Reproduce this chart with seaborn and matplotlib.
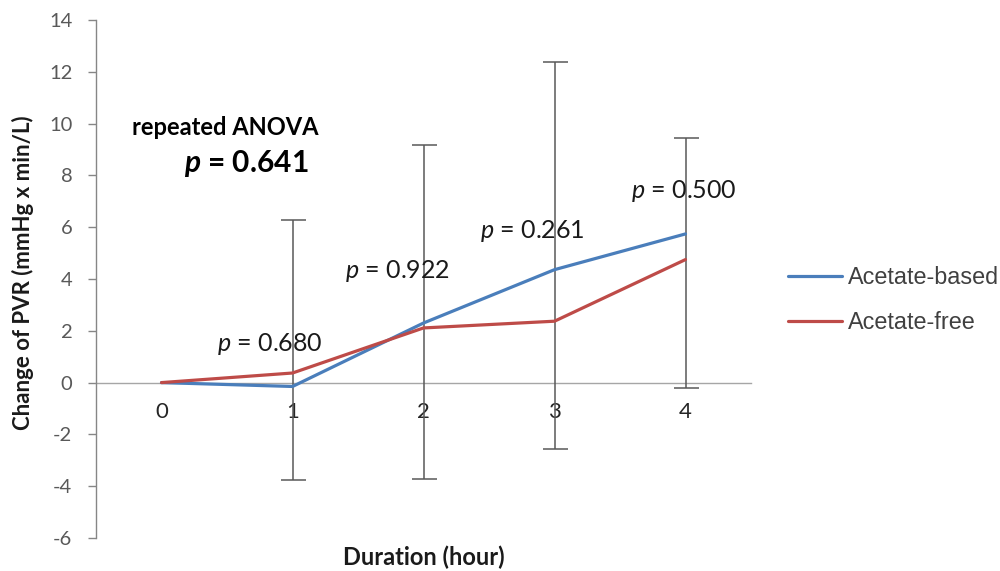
import numpy as np
import pandas as pd
import matplotlib
matplotlib.use("Agg")
import matplotlib.pyplot as plt
import seaborn as sns

# Change of PVR over dialysis duration
hours = [0, 1, 2, 3, 4]
hour_labels = ["0", "1", "2", "3", "4"]
acetate_based = [0.0, -0.15, 2.30, 4.36, 5.74]
acetate_free = [0.0, 0.37, 2.11, 2.37, 4.75]
err_hours = [1, 2, 3, 4]
err_low = [-3.78, -3.71, -2.55, -0.20]
err_high = [6.29, 9.19, 12.38, 9.45]
p_labels = ["0.680", "0.922", "0.261", "0.500"]
p_label_pos = [(0.83, 1.5), (1.8, 4.3), (2.83, 5.85), (3.985, 7.4)]
series_names = ["Acetate-based", "Acetate-free"]
colors = ["#4A7EBB", "#BE4B48"]

sns.set_style("white")
plt.rcParams["font.family"] = ["Lato", "DejaVu Sans"]
plt.rcParams["mathtext.fontset"] = "custom"
plt.rcParams["mathtext.it"] = "Lato:italic"
plt.rcParams["mathtext.bfit"] = "Lato:italic:bold"
plt.rcParams["mathtext.rm"] = "Lato"
plt.rcParams["ytick.left"] = True
plt.rcParams["ytick.direction"] = "out"
plt.rcParams["ytick.major.size"] = 6
plt.rcParams["ytick.major.width"] = 1
plt.rcParams["ytick.major.pad"] = 11
plt.rcParams["ytick.color"] = "#868686"
plt.rcParams["ytick.labelcolor"] = "#595959"
plt.rcParams["ytick.labelsize"] = 14.5
plt.rcParams["xtick.bottom"] = True
plt.rcParams["xtick.major.size"] = 0
plt.rcParams["xtick.major.pad"] = 14
plt.rcParams["xtick.labelcolor"] = "#262626"
plt.rcParams["xtick.labelsize"] = 16

df = pd.DataFrame({
    "hour": hours * 2,
    "change": acetate_based + acetate_free,
    "group": [series_names[0]] * len(hours) + [series_names[1]] * len(hours),
})

fig = plt.figure(figsize=(10, 5.71), dpi=100)
ax = fig.add_axes([0.096, 0.0578, 0.655, 0.9072])

# error bars spanning the range at each hour
low = np.array(err_low)
high = np.array(err_high)
mid = (low + high) / 2
ax.errorbar(err_hours, mid, yerr=[mid - low, high - mid], fmt="none",
            ecolor="#595959", elinewidth=1.1, capsize=9, capthick=1.1, zorder=2)

sns.lineplot(data=df, x="hour", y="change", hue="group", palette=colors,
             linewidth=2.3, ax=ax, zorder=3, legend=True)

ax.set_xlim(-0.5, 4.5)
ax.set_ylim(-6, 14)
ax.set_yticks(np.arange(-6, 15, 2))
ax.set_yticklabels([str(v) for v in range(-6, 15, 2)])
ax.set_xticks(hours)
ax.set_xticklabels(hour_labels)

for s in ["top", "right"]:
    ax.spines[s].set_visible(False)
ax.spines["left"].set_color("#868686")
ax.spines["left"].set_linewidth(1.0)
ax.spines["bottom"].set_position(("data", 0))
ax.spines["bottom"].set_color("#A6A6A6")
ax.spines["bottom"].set_linewidth(1.0)
ax.spines["bottom"].set_zorder(1)

ax.set_xlabel("Duration (hour)", fontsize=17, fontweight="bold", color="#1a1a1a")
ax.xaxis.label.set_va("center")
ax.xaxis.set_label_coords(0.5, -0.037)
ax.set_ylabel("Change of PVR (mmHg x min/L)", fontsize=16, fontweight="bold", color="#1a1a1a")
ax.yaxis.label.set_va("center")
ax.yaxis.set_label_coords(-0.112, 0.512)

# p-value annotations per time point
for txt, (xp, yp) in zip(p_labels, p_label_pos):
    ax.text(xp, yp, r"$\mathit{p}$ = " + txt, fontsize=18, color="#1a1a1a",
            ha="center", va="center")

ax.text(0.49, 9.85, "repeated ANOVA", fontsize=17, fontweight="bold",
        color="black", ha="center", va="center")
ax.text(0.65, 8.45, r"$\mathbfit{p}$ = 0.641", fontsize=21.5, fontweight="bold",
        color="black", ha="center", va="center")

handles, labels = ax.get_legend_handles_labels()
ax.get_legend().remove()
fig.legend(handles, labels, loc="center left", bbox_to_anchor=(0.788, 0.4745),
           frameon=False, prop={"family": "Liberation Sans", "size": 16.8},
           handlelength=2.3, handletextpad=0.25, labelspacing=0.93,
           borderpad=0, borderaxespad=0, labelcolor="#404040")

fig.savefig("out.png", dpi=100)
